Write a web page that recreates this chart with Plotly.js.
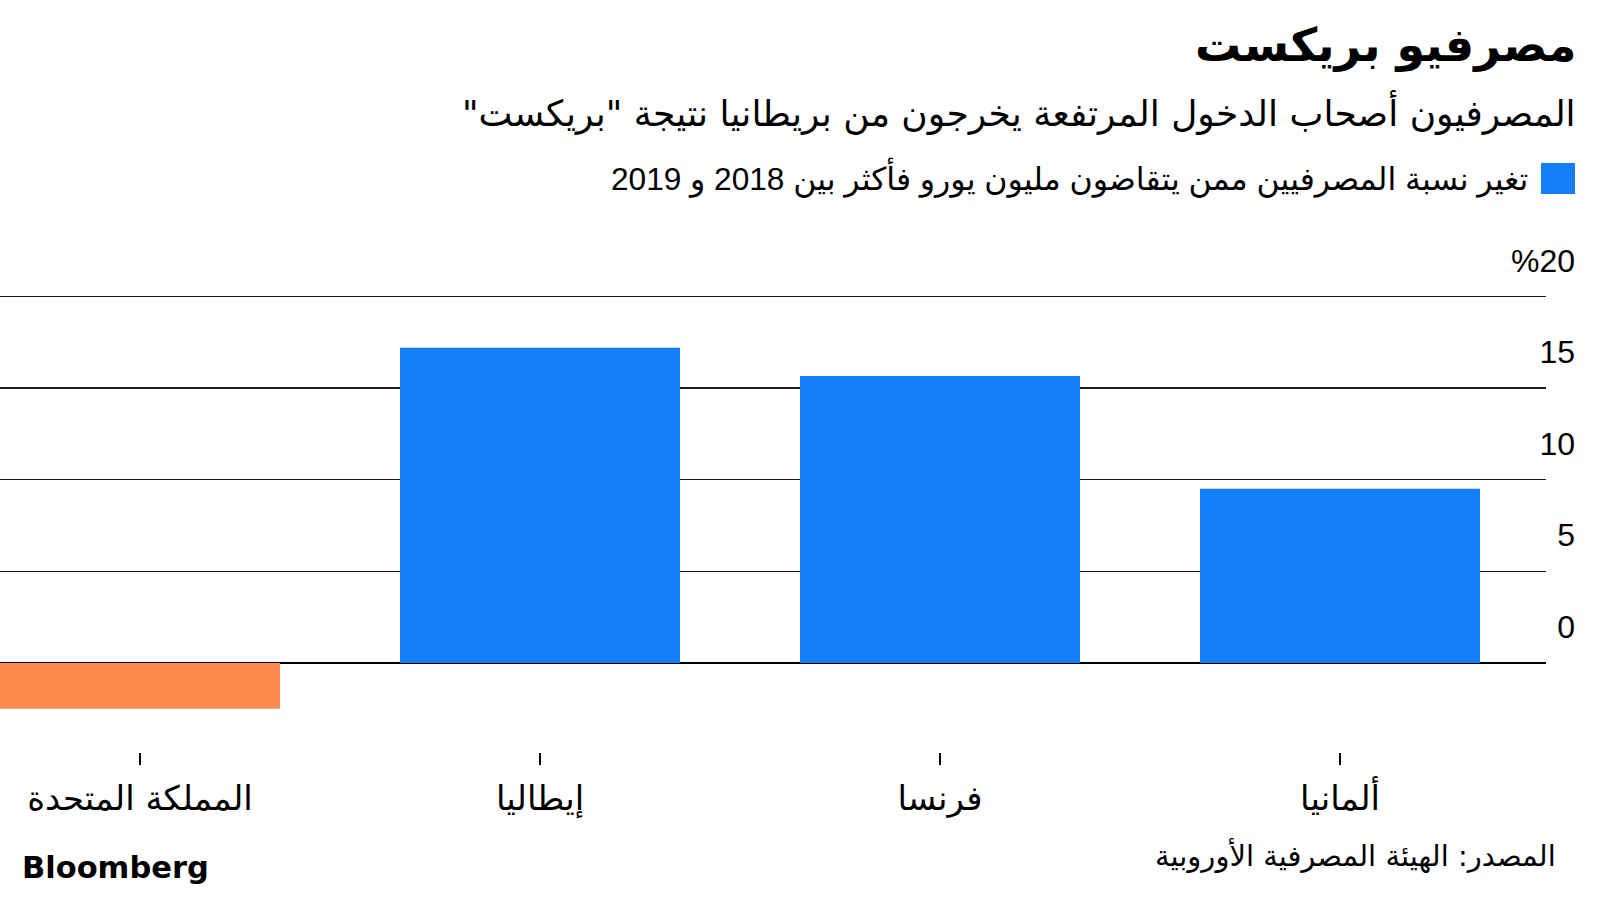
<!DOCTYPE html>
<html>
<head>
<meta charset="utf-8">
<script src="https://cdn.plot.ly/plotly-3.0.1.min.js"></script>
<style>html,body{margin:0;padding:0;background:#fff;}</style>
</head>
<body>
<div id="chart" style="width:1600px;height:900px;"></div>
<script>
// ---- data ----
const countries = ['ألمانيا', 'فرنسا', 'إيطاليا', 'المملكة المتحدة'];
const changePct = [9.5, 15.65, 17.2, -2.5];
const yTickVals = [0, 5, 10, 15, 20];
const yTickText = ['0', '5', '10', '15', '%20'];

const titleText = 'مصرفيو بريكست';
const subtitleText = 'المصرفيون أصحاب الدخول المرتفعة يخرجون من بريطانيا نتيجة "بريكست"\u200F';
const legendText = 'تغير نسبة المصرفيين ممن يتقاضون مليون يورو فأكثر بين 2018 و 2019';
const sourceText = 'المصدر: الهيئة المصرفية الأوروبية';

const BLUE = '#137ffa';
const ORANGE = '#ff8a4d';
const barColors = changePct.map(v => v >= 0 ? BLUE : ORANGE);

const AR = 'DejaVu Sans, sans-serif';
const NUM = 'Liberation Sans, Arial, sans-serif';

// plot area in pixels: x 0..1546, y 223..752
const PW = 1546, PB = 752, PH = 529;
const px = v => v / PW;
const py = v => (PB - v) / PH;

const trace = {
  type: 'bar',
  x: countries,
  y: changePct,
  marker: {color: barColors, line: {width: 0}},
  hoverinfo: 'x+y',
  showlegend: false
};

const layout = {
  width: 1600, height: 900,
  margin: {l: 0, r: 54, t: 223, b: 148},
  paper_bgcolor: '#fff', plot_bgcolor: '#fff',
  bargap: 0.3,
  showlegend: false,
  xaxis: {
    type: 'category',
    categoryorder: 'array', categoryarray: countries,
    range: [3.35, -0.515],
    showgrid: false, zeroline: false, showline: false,
    ticks: 'outside', ticklen: 12, tickwidth: 1.5, tickcolor: '#000',
    tickfont: {family: AR, size: 34, color: '#000'},
    ticklabelstandoff: 4
  },
  yaxis: {
    range: [-4.86, 24],
    side: 'right',
    tickvals: yTickVals, ticktext: yTickText,
    ticklabelposition: 'inside',
    ticklabelshift: -36,
    ticklabelstandoff: -32,
    ticks: '',
    showgrid: true, gridcolor: '#1a1a1a', gridwidth: 1.3,
    zeroline: true, zerolinecolor: '#000', zerolinewidth: 1.6,
    showline: false,
    tickfont: {family: NUM, size: 32, color: '#000'}
  },
  shapes: [
    {type: 'rect', xref: 'paper', yref: 'paper',
     x0: px(1541), x1: px(1575), y0: py(194), y1: py(163),
     fillcolor: BLUE, line: {width: 0}}
  ],
  annotations: [
    {text: titleText, xref: 'paper', yref: 'paper', x: px(1579), y: py(45),
     xanchor: 'right', yanchor: 'middle', showarrow: false,
     font: {family: AR, size: 46, color: '#000', weight: 700}},
    {text: subtitleText, xref: 'paper', yref: 'paper', x: px(1578), y: py(112),
     xanchor: 'right', yanchor: 'middle', showarrow: false,
     font: {family: AR, size: 36, color: '#000'}},
    {text: legendText, xref: 'paper', yref: 'paper', x: px(1530), y: py(177),
     xanchor: 'right', yanchor: 'middle', showarrow: false,
     font: {family: 'Liberation Sans, DejaVu Sans, sans-serif', size: 31.6, color: '#000'}},
    {text: sourceText, xref: 'paper', yref: 'paper', x: px(1558), y: py(855),
     xanchor: 'right', yanchor: 'middle', showarrow: false,
     font: {family: AR, size: 29, color: '#000'}},
    {text: 'Bloomberg', xref: 'paper', yref: 'paper', x: px(20), y: py(867),
     xanchor: 'left', yanchor: 'middle', showarrow: false,
     font: {family: 'DejaVu Sans, sans-serif', size: 30.5, color: '#000', weight: 700}}
  ]
};

Plotly.newPlot('chart', [trace], layout, {displayModeBar: false, staticPlot: true});
</script>
</body>
</html>
